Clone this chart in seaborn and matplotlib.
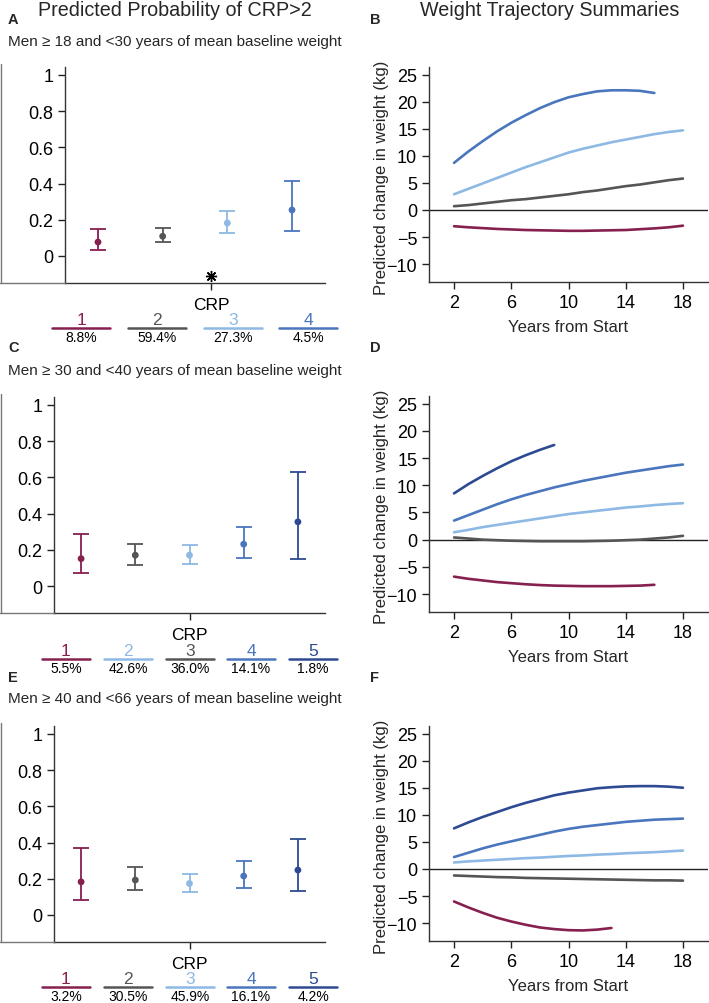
import numpy as np
import pandas as pd
import matplotlib
matplotlib.use("Agg")
import matplotlib.pyplot as plt
import seaborn as sns
from matplotlib.lines import Line2D

sns.set_theme(style="ticks")
plt.rcParams['font.family'] = ['Liberation Sans', 'DejaVu Sans']

# ---------------- colours ----------------
MAROON = "#86204F"
GRAY = "#555555"
LBLUE = "#8DB9E4"
MBLUE = "#4A76BD"
DBLUE = "#2D4A93"

# ---------------- Panel A data ----------------
a_classes = ["1", "2", "3", "4"]
a_est = [0.077, 0.109, 0.182, 0.254]
a_lo = [0.033, 0.079, 0.127, 0.136]
a_hi = [0.149, 0.153, 0.250, 0.416]
a_pct = ["8.8%", "59.4%", "27.3%", "4.5%"]
a_point_colors = [MAROON, GRAY, LBLUE, MBLUE]
a_legend_colors = [MAROON, GRAY, LBLUE, MBLUE]

# ---------------- Panel C data ----------------
c_classes = ["1", "2", "3", "4", "5"]
c_est = [0.151, 0.170, 0.170, 0.231, 0.354]
c_lo = [0.070, 0.118, 0.124, 0.153, 0.151]
c_hi = [0.286, 0.234, 0.227, 0.327, 0.627]
c_pct = ["5.5%", "42.6%", "36.0%", "14.1%", "1.8%"]
c_point_colors = [MAROON, GRAY, LBLUE, MBLUE, DBLUE]
c_legend_colors = [MAROON, LBLUE, GRAY, MBLUE, DBLUE]

# ---------------- Panel E data ----------------
e_classes = ["1", "2", "3", "4", "5"]
e_est = [0.183, 0.193, 0.174, 0.215, 0.248]
e_lo = [0.081, 0.136, 0.127, 0.150, 0.132]
e_hi = [0.367, 0.264, 0.229, 0.299, 0.420]
e_pct = ["3.2%", "30.5%", "45.9%", "16.1%", "4.2%"]
e_point_colors = [MAROON, GRAY, LBLUE, MBLUE, DBLUE]
e_legend_colors = [MAROON, GRAY, LBLUE, MBLUE, DBLUE]

# ---------------- Panel B trajectories ----------------
b_years_blue = list(range(2, 17))
b_blue = [8.7, 10.8, 12.7, 14.5, 16.1, 17.5, 18.8, 19.9, 20.8, 21.4, 21.9, 22.1, 22.1, 22.0, 21.6]
b_years_full = list(range(2, 19))
b_lblue = [2.9, 3.9, 4.9, 5.9, 6.9, 7.9, 8.8, 9.7, 10.6, 11.3, 11.9, 12.5, 13.0, 13.5, 14.0, 14.4, 14.7]
b_gray = [0.7, 0.9, 1.2, 1.5, 1.8, 2.0, 2.3, 2.6, 2.9, 3.3, 3.6, 4.0, 4.4, 4.7, 5.1, 5.5, 5.8]
b_maroon = [-3.0, -3.2, -3.35, -3.5, -3.6, -3.7, -3.75, -3.8, -3.85, -3.85, -3.8, -3.75, -3.7, -3.55, -3.4, -3.2, -2.9]

# ---------------- Panel D trajectories ----------------
d_years_dblue = list(range(2, 10))
d_dblue = [8.5, 10.2, 11.7, 13.1, 14.4, 15.5, 16.5, 17.4]
d_years_full = list(range(2, 19))
d_mblue = [3.5, 4.5, 5.5, 6.5, 7.4, 8.2, 8.9, 9.6, 10.2, 10.8, 11.3, 11.8, 12.3, 12.7, 13.1, 13.5, 13.8]
d_lblue = [1.35, 1.8, 2.3, 2.7, 3.1, 3.5, 3.9, 4.3, 4.7, 5.0, 5.3, 5.6, 5.9, 6.1, 6.35, 6.55, 6.7]
d_gray = [0.4, 0.2, 0.0, -0.1, -0.2, -0.25, -0.3, -0.3, -0.3, -0.3, -0.25, -0.2, -0.1, 0.0, 0.2, 0.4, 0.7]
d_years_maroon = list(range(2, 17))
d_maroon = [-6.8, -7.2, -7.5, -7.8, -8.0, -8.2, -8.35, -8.45, -8.5, -8.55, -8.55, -8.55, -8.5, -8.45, -8.3]

# ---------------- Panel F trajectories ----------------
f_years_full = list(range(2, 19))
f_dblue = [7.5, 8.6, 9.6, 10.5, 11.4, 12.2, 12.9, 13.6, 14.1, 14.5, 14.9, 15.1, 15.25, 15.3, 15.3, 15.2, 15.0]
f_mblue = [2.2, 3.0, 3.8, 4.5, 5.1, 5.7, 6.3, 6.9, 7.4, 7.8, 8.1, 8.4, 8.7, 8.9, 9.1, 9.2, 9.3]
f_lblue = [1.2, 1.4, 1.55, 1.7, 1.85, 2.0, 2.1, 2.25, 2.4, 2.5, 2.65, 2.75, 2.9, 3.0, 3.1, 3.25, 3.4]
f_gray = [-1.2, -1.3, -1.4, -1.5, -1.55, -1.65, -1.7, -1.75, -1.8, -1.85, -1.9, -1.95, -2.0, -2.05, -2.1, -2.1, -2.15]
f_years_maroon = list(range(2, 14))
f_maroon = [-6.0, -7.1, -8.1, -9.0, -9.7, -10.3, -10.8, -11.1, -11.3, -11.35, -11.2, -10.9]

titles = ["Predicted Probability of CRP>2", "Weight Trajectory Summaries"]
subtitles = ["Men \u2265 18 and <30 years of mean baseline weight",
             "Men \u2265 30 and <40 years of mean baseline weight",
             "Men \u2265 40 and <66 years of mean baseline weight"]

W, H = 709, 1004
fig = plt.figure(figsize=(W / 100, H / 100), dpi=100)


def ax_at(l, t, r, b):
    return fig.add_axes([l / W, 1 - b / H, (r - l) / W, (b - t) / H])


def fx(x):
    return x / W


def fy(y):
    return 1 - y / H


def prob_panel(box, classes, est, lo, hi, pcolors, crp_tick, xlim, star=False):
    l, t, r, b = box
    ax = ax_at(l, t, r, b)
    pos = np.arange(1, len(classes) + 1)
    df = pd.DataFrame({"pos": pos, "est": est, "lo": lo, "hi": hi, "cls": classes})
    pal = dict(zip(classes, pcolors))
    for i, row in df.iterrows():
        ax.errorbar(row["pos"], row["est"],
                    yerr=[[row["est"] - row["lo"]], [row["hi"] - row["est"]]],
                    fmt="none", ecolor=pcolors[i], elinewidth=1.3, capsize=5.5,
                    capthick=1.3, zorder=2)
    sns.scatterplot(data=df, x="pos", y="est", hue="cls", palette=pal, s=24,
                    edgecolor="none", legend=False, ax=ax, zorder=3)
    ax.set_xlim(*xlim)
    ax.set_ylim(-0.149, 1.043)
    ax.set_yticks([0, 0.2, 0.4, 0.6, 0.8, 1.0])
    ax.set_yticklabels(["0", "0.2", "0.4", "0.6", "0.8", "1"])
    ax.set_xticks([crp_tick])
    ax.set_xticklabels(["CRP"])
    ax.set_xlabel("")
    ax.set_ylabel("")
    ax.tick_params(axis="both", labelsize=13, length=5, width=1, colors="#222222",
                   labelcolor="black")
    ax.tick_params(axis="x", pad=5, labelsize=12.5)
    for s in ["top", "right"]:
        ax.spines[s].set_visible(False)
    for s in ["left", "bottom"]:
        ax.spines[s].set_color("#333333")
        ax.spines[s].set_linewidth(1)
    if star:
        ax.plot([crp_tick], [-0.11], marker=(8, 2, 0), color="black", ms=8, mew=1)
    # outer frame pieces
    fig.add_artist(Line2D([fx(0.8), fx(0.8)], [fy(t - 3), fy(b)], color="#777777", lw=1))
    fig.add_artist(Line2D([fx(0), fx(l)], [fy(b), fy(b)], color="#777777", lw=1))
    return ax


def legend_row(centers, half, y_line, classes, colors, pcts):
    for cx, cl, col, p in zip(centers, classes, colors, pcts):
        fig.add_artist(Line2D([fx(cx - half), fx(cx + half)], [fy(y_line), fy(y_line)],
                              color=col, lw=1.8))
        fig.text(fx(cx), fy(y_line - 1), cl, color=col, ha="center", va="bottom", fontsize=12.5)
        fig.text(fx(cx), fy(y_line + 2), p, color="black", ha="center", va="top", fontsize=10)


def traj_panel(box, series):
    ax = ax_at(*box)
    ax.axhline(0, color="#222222", lw=1, zorder=1)
    for xs, ys, col in series:
        d = pd.DataFrame({"year": xs, "chg": ys})
        sns.lineplot(data=d, x="year", y="chg", color=col, lw=1.9, ax=ax, zorder=2)
    ax.set_xlim(0.25, 19.75)
    ax.set_ylim(-13.3, 26.4)
    ax.set_xticks([2, 6, 10, 14, 18])
    ax.set_yticks([-10, -5, 0, 5, 10, 15, 20, 25])
    ax.set_yticklabels(["\u221210", "\u22125", "0", "5", "10", "15", "20", "25"])
    ax.set_xlabel("Years from Start", fontsize=12, labelpad=6)
    ax.set_ylabel("Predicted change in weight (kg)", fontsize=12)
    ax.yaxis.set_label_coords(-0.145, 0.49)
    ax.tick_params(axis="both", labelsize=13, length=5, width=1, colors="#222222",
                   labelcolor="black")
    for s in ["top", "right"]:
        ax.spines[s].set_visible(False)
    for s in ["left", "bottom"]:
        ax.spines[s].set_color("#333333")
        ax.spines[s].set_linewidth(1)
    return ax


# ---- left column ----
prob_panel((65, 68, 325, 284), a_classes, a_est, a_lo, a_hi, a_point_colors,
           2.75, (0.49, 4.51), star=True)
legend_row([81, 157, 233, 308], 29, 329, a_classes, a_legend_colors, a_pct)

prob_panel((54, 398, 325, 614), c_classes, c_est, c_lo, c_hi, c_point_colors,
           3, (0.5, 5.5))
legend_row([66, 128, 190, 251, 313], 24, 660, c_classes, c_legend_colors, c_pct)

prob_panel((54, 727, 325, 943), e_classes, e_est, e_lo, e_hi, e_point_colors,
           3, (0.5, 5.5))
legend_row([66, 128, 190, 251, 313], 24, 988, e_classes, e_legend_colors, e_pct)

# ---- right column ----
traj_panel((429, 68, 708, 283), [
    (b_years_blue, b_blue, MBLUE),
    (b_years_full, b_lblue, LBLUE),
    (b_years_full, b_gray, GRAY),
    (b_years_full, b_maroon, MAROON),
])
traj_panel((429, 397, 708, 613), [
    (d_years_dblue, d_dblue, DBLUE),
    (d_years_full, d_mblue, MBLUE),
    (d_years_full, d_lblue, LBLUE),
    (d_years_full, d_gray, GRAY),
    (d_years_maroon, d_maroon, MAROON),
])
traj_panel((429, 727, 708, 942), [
    (f_years_full, f_dblue, DBLUE),
    (f_years_full, f_mblue, MBLUE),
    (f_years_full, f_lblue, LBLUE),
    (f_years_full, f_gray, GRAY),
    (f_years_maroon, f_maroon, MAROON),
])

# ---- titles, letters, subtitles ----
fig.text(fx(175), fy(10), titles[0], ha="center", va="center", fontsize=14.2)
fig.text(fx(550), fy(10), titles[1], ha="center", va="center", fontsize=14.2)
for letter, x, y in [("A", 8, 20), ("B", 370, 20), ("C", 8, 348), ("D", 370, 348),
                     ("E", 8, 678), ("F", 370, 678)]:
    fig.text(fx(x), fy(y), letter, ha="left", va="center", fontsize=10.5, fontweight="bold")
for s, y in zip(subtitles, [42, 371, 699]):
    fig.text(fx(8), fy(y), s, ha="left", va="center", fontsize=11)

fig.savefig("out.png", dpi=100, facecolor="white")
